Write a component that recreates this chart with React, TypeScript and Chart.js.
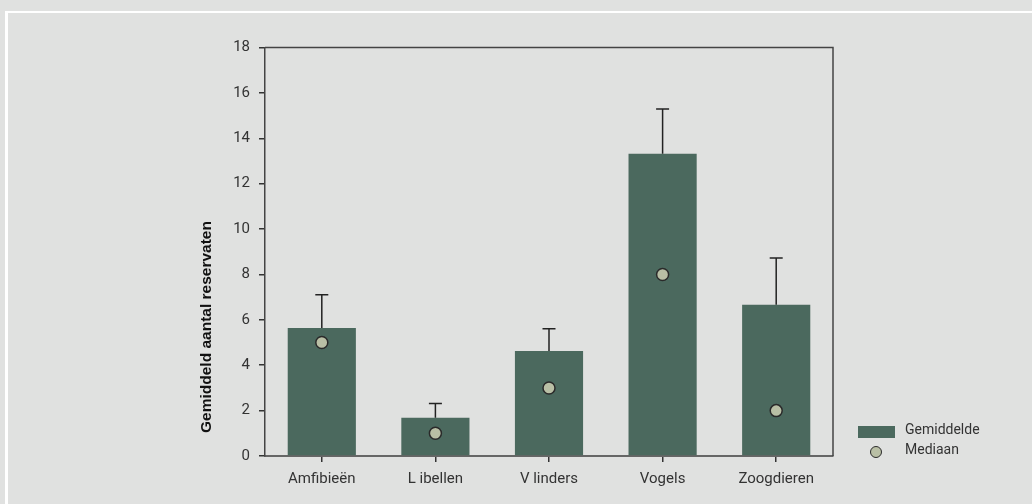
import React, { useEffect, useRef } from "react";
import { Chart, registerables } from "chart.js";

Chart.register(...registerables);

const categories = ["Amfibieën", "L ibellen", "V linders", "Vogels", "Zoogdieren"];
const meanValues = [5.64, 1.68, 4.63, 13.32, 6.66];
const errorTops = [7.11, 2.31, 5.61, 15.29, 8.73];
const medianValues = [5, 1, 3, 8, 2];
const yTicks = [0, 2, 4, 6, 8, 10, 12, 14, 16, 18];
const yTitle = "Gemiddeld aantal reservaten";
const legendLabels = ["Gemiddelde", "Mediaan"];

const BAR = "#4b695e";
const DOT = "#b9bfa5";
const BG = "#e0e1e0";
const TICKFONT = { family: "Roboto", size: 15 };

export default function App() {
  const ref = useRef<HTMLCanvasElement | null>(null);

  useEffect(() => {
    document.body.style.margin = "0";
    const canvas = ref.current;
    if (!canvas) return;

    const extras = {
      id: "extras",
      afterDatasetsDraw(chart: any) {
        const ctx = chart.ctx;
        const meta = chart.getDatasetMeta(0);
        const y = chart.scales.y;
        ctx.save();
        ctx.strokeStyle = "#222";
        ctx.lineWidth = 1.5;
        meta.data.forEach((el: any, i: number) => {
          const top = y.getPixelForValue(errorTops[i]);
          ctx.beginPath();
          ctx.moveTo(el.x, el.y);
          ctx.lineTo(el.x, top);
          ctx.moveTo(el.x - 6.5, top);
          ctx.lineTo(el.x + 6.5, top);
          ctx.stroke();
        });
        ctx.restore();
      },
      afterDraw(chart: any) {
        const ctx = chart.ctx;
        const a = chart.chartArea;
        ctx.save();
        ctx.strokeStyle = "#444";
        ctx.lineWidth = 1.5;
        ctx.beginPath();
        ctx.moveTo(a.left, a.top);
        ctx.lineTo(a.right, a.top);
        ctx.lineTo(a.right, a.bottom);
        ctx.stroke();
        ctx.translate(207, 327);
        ctx.rotate(-Math.PI / 2);
        ctx.fillStyle = "#111";
        ctx.font = "bold 15.5px 'Liberation Sans', Arial, sans-serif";
        ctx.textAlign = "center";
        ctx.textBaseline = "middle";
        ctx.fillText(yTitle, 0, 0);
        ctx.restore();
      },
    };

    const chart = new Chart(canvas, {
      type: "bar",
      data: {
        labels: categories,
        datasets: [
          {
            type: "bar",
            label: legendLabels[0],
            data: meanValues,
            backgroundColor: BAR,
            barPercentage: 0.6,
            categoryPercentage: 1,
            order: 2,
          } as any,
          {
            type: "line",
            label: legendLabels[1],
            data: medianValues,
            showLine: false,
            pointRadius: 6,
            pointBackgroundColor: DOT,
            pointBorderColor: "#2a2a2a",
            pointBorderWidth: 1.5,
            order: 1,
          } as any,
        ],
      },
      options: {
        animation: false,
        responsive: false,
        layout: { padding: { left: 0, top: 47.5, right: 199, bottom: 0 } },
        plugins: { legend: { display: false }, tooltip: { enabled: false } },
        scales: {
          x: {
            offset: true,
            grid: { offset: false, drawOnChartArea: false, drawTicks: true, tickLength: 6, color: "#333", lineWidth: 1.5 },
            border: { display: true, color: "#666", width: 2 },
            ticks: { color: "#333", font: TICKFONT, padding: 8 },
            afterFit: (s: any) => { s.height = 48; },
          },
          y: {
            min: 0,
            max: 18,
            afterBuildTicks: (s: any) => { s.ticks = yTicks.map((v) => ({ value: v })); },
            grid: { drawOnChartArea: false, drawTicks: true, tickLength: 6, color: "#333", lineWidth: 1.5 },
            border: { display: true, color: "#444", width: 1.5 },
            ticks: { color: "#333", font: TICKFONT, padding: 9 },
            afterFit: (s: any) => { s.width = 265; },
          },
        },
      },
      plugins: [extras],
    });
    return () => chart.destroy();
  }, []);

  const text: React.CSSProperties = {
    position: "absolute",
    left: 905,
    fontFamily: "Roboto",
    fontSize: 14,
    color: "#333",
    lineHeight: "16px",
  };

  return (
    <div style={{ position: "absolute", left: 0, top: 0, width: 1032, height: 504, background: BG, overflow: "hidden" }}>
      <div
        style={{
          position: "absolute",
          left: 5,
          top: 11,
          width: 1100,
          height: 600,
          borderTop: "2px solid #fff",
          borderLeft: "3px solid #fff",
        }}
      />
      <canvas ref={ref} width={1032} height={504} style={{ position: "absolute", left: 0, top: 0, width: 1032, height: 504 }} />
      <div style={{ position: "absolute", left: 858, top: 426, width: 37, height: 12, background: BAR }} />
      <div
        style={{
          position: "absolute",
          left: 870,
          top: 446,
          width: 10,
          height: 10,
          borderRadius: "50%",
          background: DOT,
          border: "1.5px solid #2a2a2a",
        }}
      />
      <div style={{ ...text, top: 421 }}>{legendLabels[0]}</div>
      <div style={{ ...text, top: 441 }}>{legendLabels[1]}</div>
    </div>
  );
}
